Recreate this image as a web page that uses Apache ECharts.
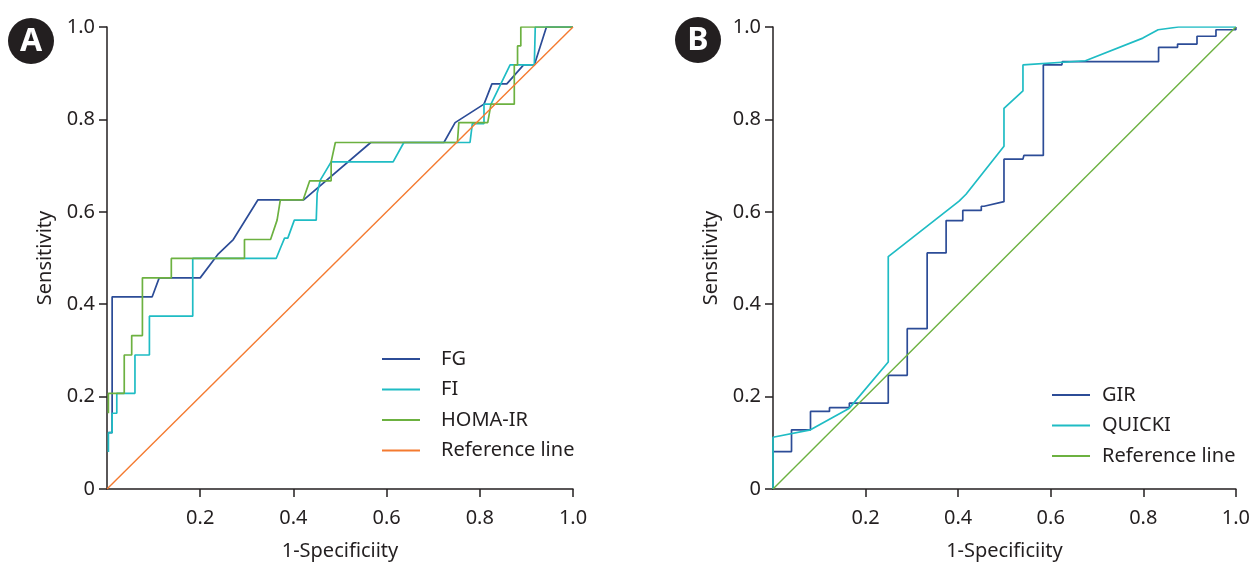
<!DOCTYPE html>
<html>
<head>
<meta charset="utf-8">
<script src="https://cdn.jsdelivr.net/npm/echarts@6/dist/echarts.min.js"></script>
<style>html,body{margin:0;padding:0;background:#fff}#c{width:1253px;height:567px}</style>
</head>
<body>
<div id="c"></div>
<script>
// ---- Data ----
const tickValuesX = [0.2, 0.4, 0.6, 0.8, 1.0];
const tickValuesY = [0, 0.2, 0.4, 0.6, 0.8, 1.0];

// Panel A
const fgPoints = [[0.003,0.122],[0.011,0.122],[0.011,0.416],[0.097,0.416],[0.112,0.457],[0.2,0.457],[0.239,0.509],[0.271,0.54],[0.324,0.626],[0.422,0.626],[0.566,0.75],[0.723,0.75],[0.747,0.793],[0.809,0.833],[0.826,0.877],[0.858,0.877],[0.894,0.918],[0.917,0.918],[0.943,1.0],[1,1]];
const fiPoints = [[0.003,0.08],[0.003,0.122],[0.011,0.122],[0.011,0.164],[0.021,0.164],[0.021,0.207],[0.06,0.207],[0.06,0.29],[0.091,0.29],[0.091,0.374],[0.184,0.374],[0.184,0.499],[0.363,0.499],[0.372,0.521],[0.381,0.543],[0.388,0.543],[0.402,0.582],[0.449,0.582],[0.451,0.64],[0.458,0.669],[0.481,0.708],[0.614,0.708],[0.637,0.75],[0.779,0.75],[0.784,0.791],[0.809,0.791],[0.809,0.833],[0.824,0.833],[0.865,0.918],[0.917,0.918],[0.919,1.0],[1,1]];
const homaPoints = [[0.003,0.164],[0.003,0.207],[0.037,0.207],[0.037,0.29],[0.053,0.29],[0.053,0.332],[0.076,0.332],[0.076,0.457],[0.138,0.457],[0.138,0.499],[0.295,0.499],[0.295,0.54],[0.351,0.54],[0.365,0.582],[0.372,0.626],[0.421,0.626],[0.435,0.667],[0.481,0.667],[0.481,0.708],[0.49,0.75],[0.752,0.75],[0.755,0.793],[0.817,0.793],[0.824,0.833],[0.874,0.833],[0.874,0.918],[0.881,0.918],[0.881,0.959],[0.888,0.959],[0.888,1.0],[1,1]];
const refPointsA = [[0,0],[1,1]];

// Panel B
const girPoints = [[0,0.081],[0.04,0.081],[0.04,0.128],[0.081,0.128],[0.081,0.168],[0.122,0.168],[0.122,0.176],[0.165,0.176],[0.165,0.186],[0.249,0.186],[0.249,0.246],[0.29,0.246],[0.29,0.347],[0.333,0.347],[0.333,0.511],[0.374,0.511],[0.374,0.581],[0.41,0.581],[0.41,0.603],[0.45,0.603],[0.45,0.612],[0.456,0.612],[0.499,0.622],[0.499,0.714],[0.54,0.714],[0.542,0.722],[0.584,0.722],[0.584,0.918],[0.624,0.918],[0.625,0.925],[0.833,0.925],[0.833,0.956],[0.874,0.956],[0.874,0.963],[0.916,0.963],[0.916,0.98],[0.957,0.98],[0.957,0.994],[1.0,0.994],[1.0,1.0]];
const quickiPoints = [[0,0],[0,0.112],[0.081,0.128],[0.165,0.175],[0.249,0.275],[0.249,0.503],[0.402,0.623],[0.417,0.638],[0.499,0.742],[0.499,0.824],[0.54,0.862],[0.54,0.918],[0.675,0.927],[0.799,0.976],[0.832,0.994],[0.876,1.0],[1,1]];
const refPointsB = [[0,0],[1,1]];

const legendA = ['FG', 'FI', 'HOMA-IR', 'Reference line'];
const legendB = ['GIR', 'QUICKI', 'Reference line '];

// ---- Styles ----
const INK = '#231f20';
const BLUE = '#2c4c97';
const TEAL = '#1fbcc4';
const GREEN = '#6cb140';
const ORANGE = '#f47a30';
const FONT = 'Noto Sans';
const FS = 20;

function fmt(v) { return v === 0 ? '0' : v.toFixed(1); }

function makeX(gi) {
  return {
    type: 'value', gridIndex: gi, min: 0, max: 1, interval: 0.2,
    name: '1-Specificiity', nameLocation: 'middle', nameGap: 52,
    nameTextStyle: { color: INK, fontSize: FS, fontFamily: FONT },
    splitLine: { show: false },
    axisLine: { show: true, onZero: false, lineStyle: { color: INK, width: 1.5 } },
    axisTick: { show: true, length: 8, customValues: tickValuesX, lineStyle: { color: INK, width: 1.5 } },
    axisLabel: { customValues: tickValuesX, color: INK, fontSize: FS, fontFamily: FONT, margin: 19, formatter: fmt }
  };
}
function makeY(gi) {
  return {
    type: 'value', gridIndex: gi, min: 0, max: 1, interval: 0.2,
    name: 'Sensitivity', nameLocation: 'middle', nameGap: 52,
    nameTextStyle: { color: INK, fontSize: FS, fontFamily: FONT },
    splitLine: { show: false },
    axisLine: { show: true, lineStyle: { color: INK, width: 1.5 } },
    axisTick: { show: true, length: 8, customValues: tickValuesY, lineStyle: { color: INK, width: 1.5 } },
    axisLabel: { customValues: tickValuesY, color: INK, fontSize: FS, fontFamily: FONT, margin: 12, formatter: fmt, showMinLabel: true, showMaxLabel: true }
  };
}
function line(name, data, color, gi, width) {
  return {
    name: name, type: 'line', xAxisIndex: gi, yAxisIndex: gi, data: data,
    showSymbol: false, symbol: 'none', animation: false, silent: true,
    lineStyle: { color: color, width: width || 1.7 }, itemStyle: { color: color }
  };
}

const legendCommon = {
  orient: 'vertical', icon: 'rect', itemWidth: 38, itemHeight: 2, itemGap: 10.5, padding: 0,
  selectedMode: false
};

const option = {
  backgroundColor: '#fff',
  animation: false,
  grid: [
    { left: 107, right: 680, top: 27, bottom: 78 },
    { left: 773, right: 16, top: 27, bottom: 78 }
  ],
  xAxis: [makeX(0), makeX(1)],
  yAxis: [makeY(0), makeY(1)],
  legend: [
    Object.assign({}, legendCommon, {
      data: legendA, left: 382, top: 349,
      textStyle: { color: INK, fontSize: FS, fontFamily: FONT, lineHeight: 20, padding: [0, 0, 0, 16] }
    }),
    Object.assign({}, legendCommon, {
      data: legendB, left: 1052, top: 385,
      textStyle: { color: INK, fontSize: FS, fontFamily: FONT, lineHeight: 20, padding: [0, 0, 0, 7] },
      formatter: function (n) { return n.trim(); }
    })
  ],
  series: [
    line('FG', fgPoints, BLUE, 0),
    line('FI', fiPoints, TEAL, 0),
    line('HOMA-IR', homaPoints, GREEN, 0),
    line('Reference line', refPointsA, ORANGE, 0, 1.4),
    line('GIR', girPoints, BLUE, 1),
    line('QUICKI', quickiPoints, TEAL, 1),
    line('Reference line ', refPointsB, GREEN, 1, 1.4)
  ],
  graphic: [
    { type: 'circle', shape: { cx: 31, cy: 41, r: 23 }, style: { fill: INK } },
    { type: 'text', x: 31, y: 42, style: { text: 'A', fill: '#fff', stroke: INK, lineWidth: 1, font: 'bold 32px "Noto Sans"', textAlign: 'center', textVerticalAlign: 'middle' } },
    { type: 'circle', shape: { cx: 698, cy: 40, r: 23 }, style: { fill: INK } },
    { type: 'text', x: 698, y: 41, style: { text: 'B', fill: '#fff', stroke: INK, lineWidth: 1, font: 'bold 32px "Noto Sans"', textAlign: 'center', textVerticalAlign: 'middle' } }
  ]
};

const chart = echarts.init(document.getElementById('c'), null, { renderer: 'canvas' });
chart.setOption(option);
</script>
</body>
</html>
